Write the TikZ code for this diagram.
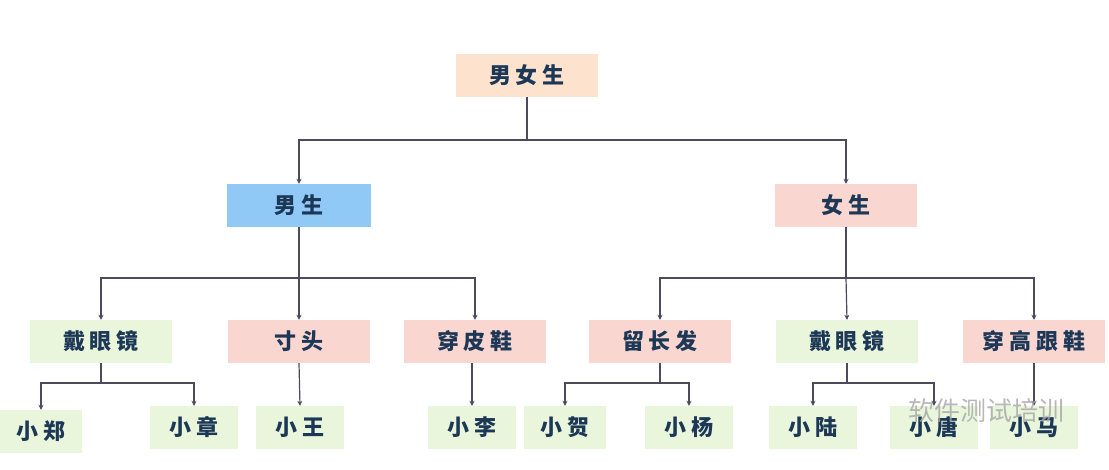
\documentclass[tikz,border=0pt]{standalone}
\usepackage{fontspec}
\newfontfamily\cjk[LetterSpace=22]{Noto Sans CJK SC}
\usetikzlibrary{arrows.meta}
\definecolor{txt}{HTML}{1D3856}
\definecolor{ln}{HTML}{4B4B5C}
\definecolor{peach}{HTML}{FDE2CE}
\definecolor{sky}{HTML}{90C9F6}
\definecolor{pinkb}{HTML}{FAD6D1}
\definecolor{greenb}{HTML}{E9F6DB}
\tikzset{
  box/.style={minimum width=142pt, minimum height=43pt, inner sep=0pt,
    font=\cjk\fontsize{22}{22}\selectfont\bfseries, text=txt},
  leaf/.style={minimum width=88pt, minimum height=43pt, inner sep=0pt,
    font=\cjk\fontsize{22}{22}\selectfont\bfseries, text=txt, fill=greenb},
  conn/.style={draw=ln, line width=1.2pt},
  arr/.style={conn, -{Stealth[length=5pt,width=5pt]}}
}
\begin{document}
\begin{tikzpicture}[x=1pt,y=-1pt]
\useasboundingbox (0,0) rectangle (1109,469);
% level 0
\node[box, fill=peach] (root) at (527,75.5) {男女生};
% level 1
\node[box, fill=sky, minimum width=144pt] (boy) at (299,205.5) {男生};
\node[box, fill=pinkb] (girl) at (846,205.5) {女生};
% level 2
\node[box, fill=greenb] (b1) at (101,341.5) {戴眼镜};
\node[box, fill=pinkb] (b2) at (299,341.5) {寸头};
\node[box, fill=pinkb] (b3) at (475,341.5) {穿皮鞋};
\node[box, fill=pinkb] (g1) at (660,341.5) {留长发};
\node[box, fill=greenb] (g2) at (847,341.5) {戴眼镜};
\node[box, fill=pinkb] (g3) at (1034,341.5) {穿高跟鞋};
% level 3
\node[leaf, minimum width=82pt] (l1) at (41,431.5) {小郑};
\node[leaf] (l2) at (194,427.5) {小章};
\node[leaf] (l3) at (300,427.5) {小王};
\node[leaf] (l4) at (472,427.5) {小李};
\node[leaf, minimum width=82pt] (l5) at (565,427.5) {小贺};
\node[leaf] (l6) at (689,427.5) {小杨};
\node[leaf] (l7) at (813,427.5) {小陆};
\node[leaf] (l8) at (934,427.5) {小唐};
\node[leaf] (l9) at (1034,427.5) {小马};
% connectors level 0 -> 1
\coordinate (j0) at (527,140);
\draw[conn] (root.south) -- (j0);
\draw[arr] (j0) -| (boy.north);
\draw[arr] (j0) -| (girl.north);
% level 1 -> 2
\coordinate (j1) at (299,278);
\draw[conn] (boy.south) -- (j1);
\draw[arr] (j1) -| (b1.north);
\draw[arr] (j1) -- (b2.north);
\draw[arr] (j1) -| (b3.north);
\coordinate (j2) at (846,278);
\draw[conn] (girl.south) -- (j2);
\draw[arr] (j2) -| (g1.north);
\draw[arr] (j2) -- (g2.north);
\draw[arr] (j2) -| (g3.north);
% level 2 -> 3
\coordinate (j3) at (101,383);
\draw[conn] (b1.south) -- (j3);
\draw[arr] (j3) -| (l1.north);
\draw[arr] (j3) -| (l2.north);
\draw[arr] (b2.south) -- (l3.north);
\draw[arr] (b3.south -| l4.north) -- (l4.north);
\coordinate (j4) at (660,383);
\draw[conn] (g1.south) -- (j4);
\draw[arr] (j4) -| (l5.north);
\draw[arr] (j4) -| (l6.north);
\coordinate (j5) at (847,383);
\draw[conn] (g2.south) -- (j5);
\draw[arr] (j5) -| (l7.north);
\draw[arr] (j5) -| (l8.north);
\draw[arr] (g3.south) -- (l9.north);
% watermark
\node[text=gray!70, opacity=0.8, font=\fontspec{Noto Sans CJK SC}\fontsize{26}{26}\selectfont] (wm) at (986,411) {软件测试培训};
\end{tikzpicture}
\end{document}
